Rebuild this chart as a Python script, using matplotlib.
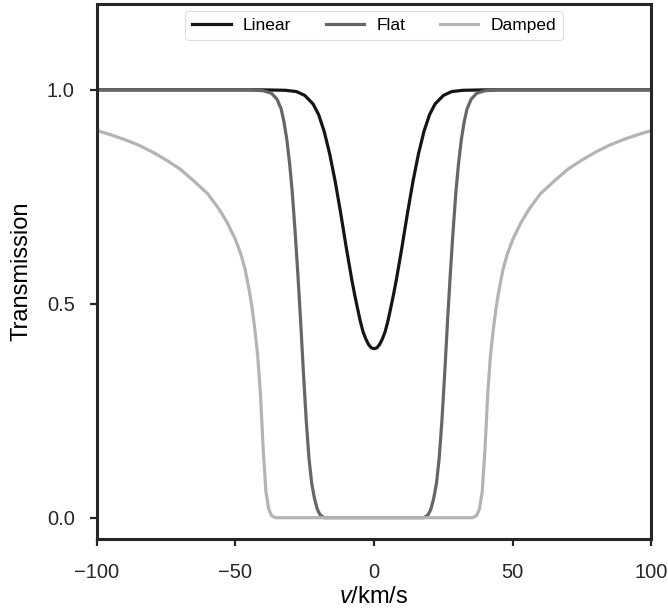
import matplotlib
matplotlib.use("Agg")
from matplotlib import pyplot as plt

# velocity grid and transmission
v_linear = [-100, -40, -32, -28, -25, -22, -20, -18, -16, -14, -12, -10, -8, -7, -6, -5, -4, -3, -2, -1, 0,
            1, 2, 3, 4, 5, 6, 7, 8, 10, 12, 14, 16, 18, 20, 22, 25, 28, 32, 40, 100]
t_linear = [1.0, 1.0, 0.999, 0.996, 0.987, 0.967, 0.942, 0.903, 0.85, 0.785, 0.71, 0.63, 0.555, 0.521, 0.49, 0.46, 0.435, 0.418, 0.405, 0.397, 0.395,
            0.397, 0.405, 0.418, 0.435, 0.46, 0.49, 0.521, 0.555, 0.63, 0.71, 0.785, 0.85, 0.903, 0.942, 0.967, 0.987, 0.996, 0.999, 1.0, 1.0]

v_flat = [-100, -45, -40, -37, -35, -33.5, -32.5, -31.5, -30.5, -29.5, -28.5, -27.5, -26.5, -25.5, -24.5, -23.5, -22.5, -21.5, -20.5, -19.5, -18, 0,
          18, 19.5, 20.5, 21.5, 22.5, 23.5, 24.5, 25.5, 26.5, 27.5, 28.5, 29.5, 30.5, 31.5, 32.5, 33.5, 35, 37, 40, 45, 100]
t_flat = [1.0, 1.0, 0.998, 0.992, 0.978, 0.955, 0.925, 0.885, 0.83, 0.76, 0.67, 0.57, 0.46, 0.34, 0.23, 0.14, 0.08, 0.045, 0.02, 0.007, 0.0, 0.0,
          0.0, 0.007, 0.02, 0.045, 0.08, 0.14, 0.23, 0.34, 0.46, 0.57, 0.67, 0.76, 0.83, 0.885, 0.925, 0.955, 0.978, 0.992, 0.998, 1.0, 1.0]

v_damped = [-100, -95, -90, -85, -80, -75, -70, -65, -60, -56, -53, -50, -48, -46.5, -45, -44, -43, -42, -41, -40, -39, -38, -37, -35.5, 0,
            35.5, 37, 38, 39, 40, 41, 42, 43, 44, 45, 46.5, 48, 50, 53, 56, 60, 65, 70, 75, 80, 85, 90, 95, 100]
t_damped = [0.905, 0.895, 0.884, 0.871, 0.855, 0.836, 0.815, 0.787, 0.757, 0.722, 0.69, 0.65, 0.615, 0.58, 0.53, 0.49, 0.44, 0.38, 0.29, 0.16, 0.06, 0.02, 0.005, 0.0, 0.0,
            0.0, 0.005, 0.02, 0.06, 0.16, 0.29, 0.38, 0.44, 0.49, 0.53, 0.58, 0.615, 0.65, 0.69, 0.722, 0.757, 0.787, 0.815, 0.836, 0.855, 0.871, 0.884, 0.895, 0.905]

plt.rcParams['font.family'] = ['Liberation Sans', 'DejaVu Sans']
plt.rcParams['mathtext.fontset'] = 'custom'
plt.rcParams['mathtext.it'] = 'Liberation Sans:italic'
plt.rcParams['mathtext.rm'] = 'Liberation Sans'

fig = plt.figure(figsize=(6.68, 6.14), dpi=100)
ax = fig.add_axes([0.145, 0.122, 0.83, 0.871])

ax.plot(v_linear, t_linear, color='#151515', lw=2.3, label='Linear')
ax.plot(v_flat, t_flat, color='#666666', lw=2.3, label='Flat')
ax.plot(v_damped, t_damped, color='#b4b4b4', lw=2.3, label='Damped')

ax.set_xlim(-100, 100)
ax.set_ylim(-0.05, 1.2)
ax.set_xticks([-100, -50, 0, 50, 100])
ax.set_yticks([0.0, 0.5, 1.0])
ax.set_xlabel('$v$/km/s', fontsize=17, labelpad=3)
ax.set_ylabel('Transmission', fontsize=17, labelpad=10)

for s in ax.spines.values():
    s.set_linewidth(2.2)
    s.set_color('#262626')
ax.tick_params(direction='out', length=5, width=1.6, color='#262626',
               labelsize=14.5, labelcolor='#262626')
ax.tick_params(axis='x', pad=12)
ax.tick_params(axis='y', pad=11)

leg = ax.legend(loc='upper center', ncol=3, fontsize=12.5, frameon=True,
                handlelength=2.2, handletextpad=0.7, columnspacing=2.0,
                borderaxespad=0.4)
leg.get_frame().set_edgecolor('#d8d8d8')
leg.get_frame().set_linewidth(0.8)

plt.savefig('out.png', dpi=100)
